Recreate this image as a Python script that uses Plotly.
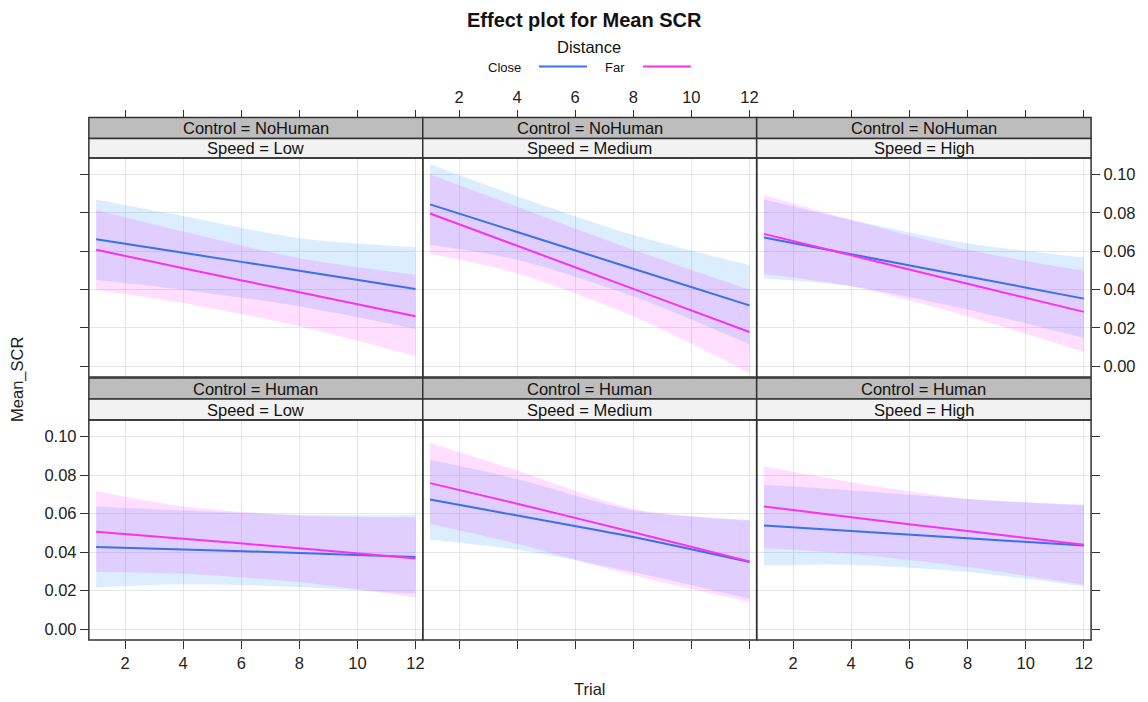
import plotly.graph_objects as go

# ---------------- data ----------------
trial = [1, 4, 8, 12]
controls = ["NoHuman", "Human"]
speeds = ["Low", "Medium", "High"]
distances = ["Close", "Far"]

# fit / lower / upper for each (Control, Speed, Distance)
fit_close = {
    ("NoHuman", "Low"):    [0.0662, 0.0591, 0.0497, 0.0402],
    ("NoHuman", "Medium"): [0.0844, 0.0700, 0.0508, 0.0317],
    ("NoHuman", "High"):   [0.0671, 0.0584, 0.0468, 0.0352],
    ("Human", "Low"):      [0.0426, 0.0413, 0.0395, 0.0374],
    ("Human", "Medium"):   [0.0673, 0.0590, 0.0478, 0.0348],
    ("Human", "High"):     [0.0538, 0.0509, 0.0471, 0.0434],
}
lower_close = {
    ("NoHuman", "Low"):    [0.0451, 0.0399, 0.0312, 0.0194],
    ("NoHuman", "Medium"): [0.0633, 0.0555, 0.0364, 0.0113],
    ("NoHuman", "High"):   [0.0459, 0.0416, 0.0295, 0.0147],
    ("Human", "Low"):      [0.0215, 0.0232, 0.0218, 0.0183],
    ("Human", "Medium"):   [0.0464, 0.0412, 0.0296, 0.0157],
    ("Human", "High"):     [0.0330, 0.0334, 0.0296, 0.0221],
}
upper_close = {
    ("NoHuman", "Low"):    [0.0870, 0.0783, 0.0667, 0.0620],
    ("NoHuman", "Medium"): [0.1054, 0.0887, 0.0684, 0.0527],
    ("NoHuman", "High"):   [0.0870, 0.0763, 0.0641, 0.0567],
    ("Human", "Low"):      [0.0637, 0.0616, 0.0593, 0.0592],
    ("Human", "Medium"):   [0.0879, 0.0780, 0.0616, 0.0568],
    ("Human", "High"):     [0.0749, 0.0720, 0.0676, 0.0642],
}
fit_far = {
    ("NoHuman", "Low"):    [0.0607, 0.0511, 0.0385, 0.0260],
    ("NoHuman", "Medium"): [0.0796, 0.0628, 0.0403, 0.0178],
    ("NoHuman", "High"):   [0.0690, 0.0578, 0.0430, 0.0283],
    ("Human", "Low"):      [0.0505, 0.0469, 0.0420, 0.0367],
    ("Human", "Medium"):   [0.0758, 0.0651, 0.0503, 0.0351],
    ("Human", "High"):     [0.0637, 0.0581, 0.0509, 0.0438],
}
lower_far = {
    ("NoHuman", "Low"):    [0.0399, 0.0329, 0.0208, 0.0052],
    ("NoHuman", "Medium"): [0.0586, 0.0485, 0.0260, -0.0035],
    ("NoHuman", "High"):   [0.0480, 0.0416, 0.0260, 0.0073],
    ("Human", "Low"):      [0.0296, 0.0287, 0.0244, 0.0163],
    ("Human", "Medium"):   [0.0547, 0.0443, 0.0279, 0.0140],
    ("Human", "High"):     [0.0420, 0.0391, 0.0322, 0.0230],
}
upper_far = {
    ("NoHuman", "Low"):    [0.0815, 0.0702, 0.0563, 0.0477],
    ("NoHuman", "Medium"): [0.1000, 0.0832, 0.0607, 0.0399],
    ("NoHuman", "High"):   [0.0893, 0.0763, 0.0607, 0.0497],
    ("Human", "Low"):      [0.0716, 0.0637, 0.0590, 0.0580],
    ("Human", "Medium"):   [0.0967, 0.0824, 0.0625, 0.0562],
    ("Human", "High"):     [0.0844, 0.0763, 0.0676, 0.0647],
}

x_ticks = [2, 4, 6, 8, 10, 12]
y_ticks = [0.00, 0.02, 0.04, 0.06, 0.08, 0.10]

# ---------------- style ----------------
W, H = 1148, 702
FONT = "Liberation Sans, Arial, Helvetica, sans-serif"
BLUE = "#3a70e8"
MAG = "#fa32f0"
BLUE_FILL = "rgba(0,128,255,0.14)"
MAG_FILL = "rgba(255,0,255,0.13)"
BORDER = "#333333"
GRID = "#e6e6e6"
STRIP_DARK = "#bdbdbd"
STRIP_LIGHT = "#f2f2f2"
TXT = 16.5

col_x = [(89, 423.5), (423.5, 758), (758, 1093)]
row_plot = [(158, 377), (420, 640)]          # top, bottom (pixels)
row_strip = [(117.5, 138.5, 158), (378, 399, 420)]
XR = [0.75, 12.25]
YR = [-0.0057, 0.1086]

def px(x):
    return x / W

def py(y):
    return 1 - y / H

fig = go.Figure()
layout = {}
shapes = []
annotations = []

for r, ctrl in enumerate(controls):
    for c, spd in enumerate(speeds):
        p = r * 3 + c + 1
        xa = "x" if p == 1 else f"x{p}"
        ya = "y" if p == 1 else f"y{p}"
        key = (ctrl, spd)
        # bands
        for lo, up, fc in [(lower_close, upper_close, BLUE_FILL),
                           (lower_far, upper_far, MAG_FILL)]:
            fig.add_trace(go.Scatter(x=trial, y=lo[key], xaxis=xa, yaxis=ya,
                                     mode="lines", line=dict(width=0, shape="spline", smoothing=0.8),
                                     hoverinfo="skip", showlegend=False))
            fig.add_trace(go.Scatter(x=trial, y=up[key], xaxis=xa, yaxis=ya,
                                     mode="lines", line=dict(width=0, shape="spline", smoothing=0.8),
                                     fill="tonexty", fillcolor=fc,
                                     hoverinfo="skip", showlegend=False))
        for fit, col in [(fit_close, BLUE), (fit_far, MAG)]:
            fig.add_trace(go.Scatter(x=trial, y=fit[key], xaxis=xa, yaxis=ya,
                                     mode="lines", line=dict(color=col, width=2, shape="spline", smoothing=0.8),
                                     hoverinfo="skip", showlegend=False))

        x0, x1 = col_x[c]
        yt, yb = row_plot[r]
        xkey = "xaxis" if p == 1 else f"xaxis{p}"
        ykey = "yaxis" if p == 1 else f"yaxis{p}"
        xax = dict(domain=[px(x0), px(x1)], range=XR, tickvals=x_ticks,
                   showgrid=True, gridcolor=GRID, gridwidth=1, zeroline=False,
                   showline=False, tickcolor=BORDER, ticklen=8, tickwidth=1,
                   tickfont=dict(family=FONT, size=TXT, color="#222"))
        if r == 0:
            xax.update(anchor="free", position=py(row_strip[0][0]), side="top",
                       ticks="outside", showticklabels=(c == 1))
        else:
            xax.update(anchor=ya, side="bottom", ticks="outside",
                       showticklabels=(c != 1))
        layout[xkey] = xax

        yax = dict(domain=[py(yb), py(yt)], range=YR, tickvals=y_ticks,
                   tickformat=".2f", showgrid=True, gridcolor=GRID, gridwidth=1,
                   zeroline=False, showline=False, anchor=xa,
                   tickcolor=BORDER, ticklen=8, tickwidth=1,
                   tickfont=dict(family=FONT, size=TXT, color="#222"))
        if c == 0:
            yax.update(side="left", ticks="outside", showticklabels=(r == 1))
        elif c == 2:
            yax.update(side="right", ticks="outside", showticklabels=(r == 0))
        else:
            yax.update(ticks="", showticklabels=False)
        layout[ykey] = yax

        # panel + strips
        s_top, s_mid, s_bot = row_strip[r]
        shapes.append(dict(type="rect", xref="paper", yref="paper",
                           x0=px(x0), x1=px(x1), y0=py(s_mid), y1=py(s_top),
                           fillcolor=STRIP_DARK, line=dict(color=BORDER, width=1.5), layer="above"))
        shapes.append(dict(type="rect", xref="paper", yref="paper",
                           x0=px(x0), x1=px(x1), y0=py(s_bot), y1=py(s_mid),
                           fillcolor=STRIP_LIGHT, line=dict(color=BORDER, width=1.5), layer="above"))
        shapes.append(dict(type="rect", xref="paper", yref="paper",
                           x0=px(x0), x1=px(x1), y0=py(yb), y1=py(yt),
                           line=dict(color=BORDER, width=1.5), layer="above"))
        xm = px((x0 + x1) / 2)
        annotations.append(dict(text=f"Control = {ctrl}", x=xm, y=py((s_top + s_mid) / 2),
                                xref="paper", yref="paper", showarrow=False,
                                xanchor="center", yanchor="middle",
                                font=dict(family=FONT, size=TXT, color="#111")))
        annotations.append(dict(text=f"Speed = {spd}", x=xm, y=py((s_mid + s_bot) / 2),
                                xref="paper", yref="paper", showarrow=False,
                                xanchor="center", yanchor="middle",
                                font=dict(family=FONT, size=TXT, color="#111")))

# titles
annotations += [
    dict(text="<b>Effect plot for Mean SCR</b>", x=px(586), y=py(20), xref="paper", yref="paper",
         showarrow=False, xanchor="center", yanchor="middle", font=dict(family=FONT, size=20, color="#111")),
    dict(text="Distance", x=px(590), y=py(47), xref="paper", yref="paper",
         showarrow=False, xanchor="center", yanchor="middle", font=dict(family=FONT, size=16.5, color="#111")),
    dict(text="Close", x=px(505), y=py(67), xref="paper", yref="paper",
         showarrow=False, xanchor="center", yanchor="middle", font=dict(family=FONT, size=13, color="#111")),
    dict(text="Far", x=px(616), y=py(67), xref="paper", yref="paper",
         showarrow=False, xanchor="center", yanchor="middle", font=dict(family=FONT, size=13, color="#111")),
    dict(text="Trial", x=px(591), y=py(689), xref="paper", yref="paper",
         showarrow=False, xanchor="center", yanchor="middle", font=dict(family=FONT, size=TXT, color="#222")),
    dict(text="Mean_SCR", x=px(17), y=py(379), xref="paper", yref="paper", textangle=-90,
         showarrow=False, xanchor="center", yanchor="middle", font=dict(family=FONT, size=TXT, color="#222")),
]
shapes += [
    dict(type="line", xref="paper", yref="paper", x0=px(540), x1=px(588), y0=py(66.5), y1=py(66.5),
         line=dict(color=BLUE, width=2)),
    dict(type="line", xref="paper", yref="paper", x0=px(644), x1=px(692), y0=py(66.5), y1=py(66.5),
         line=dict(color=MAG, width=2)),
]

fig.update_layout(width=W, height=H, margin=dict(l=0, r=0, t=0, b=0),
                  paper_bgcolor="white", plot_bgcolor="white",
                  showlegend=False, shapes=shapes, annotations=annotations,
                  font=dict(family=FONT), **layout)
fig.write_html("out.html", config={"displayModeBar": False},
               post_script="document.body.style.margin='0';document.body.style.padding='0';")
